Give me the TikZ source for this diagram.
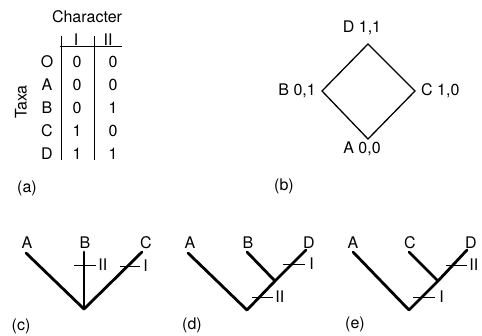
\documentclass[tikz,border=0pt]{standalone}
\usepackage{fontspec}
\setmainfont{TeX Gyre Heros}
\usetikzlibrary{positioning}

\begin{document}
\begin{tikzpicture}[x=1pt, y=-1pt, font=\fontsize{16}{19}\selectfont,
    txt/.style={inner sep=0pt},
    branch/.style={line width=2.8pt, line cap=round},
    tick/.style={line width=0.9pt}]
    \useasboundingbox (0,0) rectangle (482,335);
    % (a) table of characters
    \node (chr) [txt] at (87,17) {Character};
    \node (taxa) [txt, rotate=90] at (21,102) {Taxa};
    \node (h1) [txt] at (76,40) {I};
    \node (h2) [txt] at (108,40) {II};
    \foreach \t/\u/\v [count=\i] in {O/0/0, A/0/0, B/0/1, C/1/0, D/1/1} {
        \node (t\i) [txt] at (47,{39+23*\i}) {\t};
        \node (u\i) [txt] at (77,{39+23*\i}) {\u};
        \node (v\i) [txt] at (113,{39+23*\i}) {\v};
    }
    \draw[line width=0.8pt] (61,36) -- (61,160);
    \draw[line width=0.8pt] (94,36) -- (94,160);
    \draw[line width=0.8pt] (60,46) -- (122,46);
    \node (la) [txt] at (27,188) {(a)};

    % (b) diamond
    \coordinate (pd) at (368,44);
    \coordinate (pb) at (322,91);
    \coordinate (pa) at (368,139);
    \coordinate (pc) at (415,91);
    \draw[line width=1.3pt, line join=miter] (pd) -- (pc) -- (pa) -- (pb) -- cycle;
    \node (nd) [txt] at (362,28) {D 1,1};
    \node (nb) [txt, left=6pt of pb] {B 0,1};
    \node (nc) [txt, right=6pt of pc] {C 1,0};
    \node (na) [txt] at (362,149) {A 0,0};
    \node (lb) [txt] at (284,186) {(b)};

    % (c) star tree
    \coordinate (rc) at (84,309);
    \node (ca) [txt, anchor=south] at (27,249) {A};
    \node (cb) [txt, anchor=south] at (85,249) {B};
    \node (cc) [txt, anchor=south] at (146,249) {C};
    \draw[branch] (rc) -- (26,253);
    \draw[branch] (rc) -- (84,252);
    \draw[branch] (rc) -- (142,252);
    \draw[tick] (74,265) -- (96,265) node (c2) [txt, right=2pt] {II};
    \draw[tick] (120,266) -- (140,266) node (c1) [txt, right=3pt] {I};
    \node (lc) [txt] at (21,326) {(c)};

    % (d) tree ((B,D),A)
    \coordinate (rd) at (247,310);
    \coordinate (id) at (275,281);
    \node (da) [txt, anchor=south] at (190,249) {A};
    \node (db) [txt, anchor=south] at (248,249) {B};
    \node (dd) [txt, anchor=south] at (309,249) {D};
    \draw[branch] (rd) -- (188,253);
    \draw[branch] (rd) -- (id) -- (306,250);
    \draw[branch] (id) -- (247,252);
    \draw[tick] (283,264) -- (305,264) node (d1) [txt, right=4pt] {I};
    \draw[tick] (252,297) -- (273,297) node (d2) [txt, right=2pt] {II};
    \node (ld) [txt] at (192,325) {(d)};

    % (e) tree ((C,D),A)
    \coordinate (re) at (409,310);
    \coordinate (ie) at (438,281);
    \node (ea) [txt, anchor=south] at (353,249) {A};
    \node (ec) [txt, anchor=south] at (410,249) {C};
    \node (ed) [txt, anchor=south] at (471,249) {D};
    \draw[branch] (re) -- (353,252);
    \draw[branch] (re) -- (ie) -- (467,250);
    \draw[branch] (ie) -- (409,252);
    \draw[tick] (446,265) -- (467,265) node (e2) [txt, right=2pt] {II};
    \draw[tick] (413,297) -- (435,297) node (e1) [txt, right=4pt] {I};
    \node (le) [txt] at (355,324) {(e)};
\end{tikzpicture}
\end{document}
